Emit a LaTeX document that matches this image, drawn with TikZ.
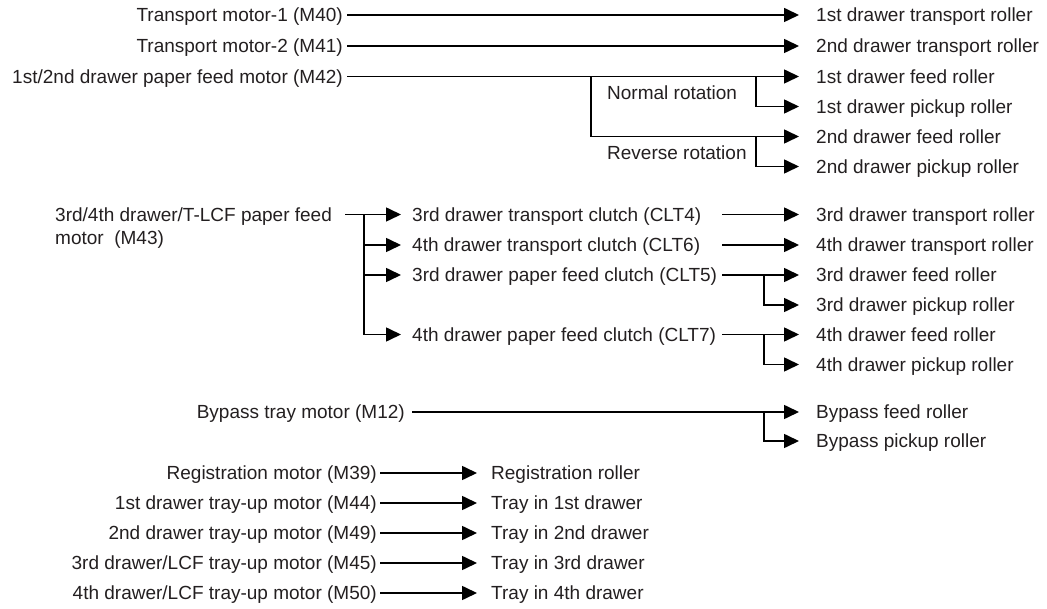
\documentclass[tikz,border=0pt]{standalone}
\usepackage{fontspec}
\setmainfont{Liberation Sans}
\usetikzlibrary{arrows.meta}
\definecolor{ink}{RGB}{35,31,32}

\begin{document}
\begin{tikzpicture}[x=1pt,y=-1pt,
  lbl/.style={text=ink,font=\fontsize{19}{23}\selectfont,inner sep=0pt,text height=13.6pt,text depth=0pt},
  src/.style={lbl,anchor=east,inner xsep=4pt},
  dst/.style={lbl,anchor=west,inner xsep=#1},
  dst/.default=17pt,
  wire/.style={line width=1.6pt},
  feed/.style={wire,-{Triangle[length=15pt,width=14pt]}}]
  \useasboundingbox (0,0) rectangle (1047,609);

  \node[src] (m40) at (347,15) {Transport motor-1 (M40)};
  \node[src] (m41) at (347,46) {Transport motor-2 (M41)};
  \node[src] (m42) at (347,76.5) {1st/2nd drawer paper feed motor (M42)};
  \node[dst] (r1) at (799,15) {1st drawer transport roller};
  \node[dst] (r2) at (799,46) {2nd drawer transport roller};
  \node[dst] (r3) at (799,76.5) {1st drawer feed roller};
  \node[dst] (r4) at (799,106.5) {1st drawer pickup roller};
  \node[dst] (r5) at (799,136.5) {2nd drawer feed roller};
  \node[dst] (r6) at (799,166.5) {2nd drawer pickup roller};
  \node[lbl,anchor=west] (nrm) at (607,92.5) {Normal rotation};
  \node[lbl,anchor=west] (rev) at (607,152.5) {Reverse rotation};
  \coordinate (revx) at (591,0);
  \coordinate (split) at (756,0);
  \draw[feed] (m40.east) -- (r1.west);
  \draw[feed] (m41.east) -- (r2.west);
  \draw[feed] (m42.east) -- (r3.west);
  \draw[feed] (m42.east -| revx) |- (r5.west);
  \draw[feed] (r3.west -| split) |- (r4.west);
  \draw[feed] (r5.west -| split) |- (r6.west);

  \node[text=ink,font=\fontsize{19}{23}\selectfont,inner sep=0pt,align=left,anchor=base west] (m43) at (55,244.3) {3rd/4th drawer/T-LCF paper feed\\motor\ \ (M43)};
  \coordinate (m43out) at (345,214.5);
  \coordinate (fan) at (364,0);
  \node[dst=11pt] (k4) at (401,214.5) {3rd drawer transport clutch (CLT4)};
  \node[dst=11pt] (k6) at (401,245) {4th drawer transport clutch (CLT6)};
  \node[dst=11pt] (k5) at (401,275) {3rd drawer paper feed clutch (CLT5)};
  \node[dst=11pt] (k7) at (401,334.5) {4th drawer paper feed clutch (CLT7)};
  \draw[feed] (m43out) -- (k4.west);
  \foreach \k in {k6,k5,k7} \draw[feed] (m43out -| fan) |- (\k.west);

  \node[dst] (r7) at (799,214.5) {3rd drawer transport roller};
  \node[dst] (r8) at (799,245) {4th drawer transport roller};
  \node[dst] (r9) at (799,275) {3rd drawer feed roller};
  \node[dst] (r10) at (799,305) {3rd drawer pickup roller};
  \node[dst] (r11) at (799,334.5) {4th drawer feed roller};
  \node[dst] (r12) at (799,364.5) {4th drawer pickup roller};
  \coordinate (kout) at (722,0);
  \coordinate (ksplit) at (764,0);
  \draw[feed] (k4.west -| kout) -- (r7.west);
  \draw[feed] (k6.west -| kout) -- (r8.west);
  \draw[feed] (k5.west -| kout) -- (r9.west);
  \draw[feed] (k7.west -| kout) -- (r11.west);
  \draw[feed] (r9.west -| ksplit) |- (r10.west);
  \draw[feed] (r11.west -| ksplit) |- (r12.west);

  \node[src,inner xsep=7pt] (m12) at (412,412) {Bypass tray motor (M12)};
  \node[dst] (b1) at (799,412) {Bypass feed roller};
  \node[dst] (b2) at (799,441) {Bypass pickup roller};
  \draw[feed] (m12.east) -- (b1.west);
  \draw[feed] (b1.west -| ksplit) |- (b2.west);

  \foreach \n/\y/\m/\t in {
      39/473/{Registration motor (M39)}/{Registration roller},
      44/503/{1st drawer tray-up motor (M44)}/{Tray in 1st drawer},
      49/533/{2nd drawer tray-up motor (M49)}/{Tray in 2nd drawer},
      45/563/{3rd drawer/LCF tray-up motor (M45)}/{Tray in 3rd drawer},
      50/593/{4th drawer/LCF tray-up motor (M50)}/{Tray in 4th drawer}}{
    \node[src,inner xsep=3pt] (m\n) at (380,\y) {\m};
    \node[dst=14pt] (tray\n) at (477,\y) {\t};
    \draw[feed] (m\n.east) -- (tray\n.west);
  }
\end{tikzpicture}
\end{document}
